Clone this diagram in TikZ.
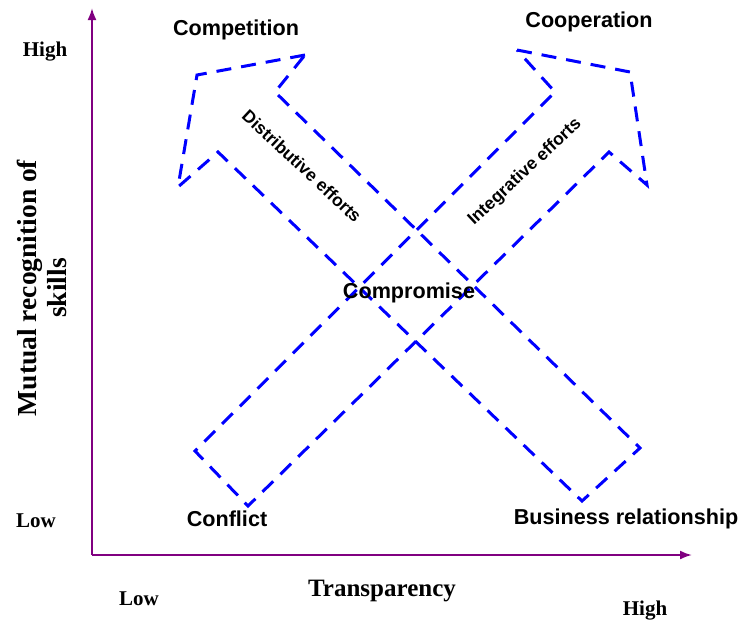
\documentclass[tikz,border=0pt]{standalone}
\usepackage{fontspec}
\setmainfont{Liberation Serif}
\setsansfont{Liberation Sans}
\usepackage{tikz}
\usetikzlibrary{arrows.meta}
\definecolor{axispurple}{RGB}{128,0,128}
\definecolor{arrowblue}{RGB}{0,0,255}
\tikzstyle{axisline} = [draw=axispurple, line width=2pt, -{Latex[length=12pt,width=9pt]}]
\tikzstyle{effortarrow} = [draw=arrowblue, line width=3pt, dash pattern=on 15pt off 10pt]
\tikzstyle{outcome} = [font=\sffamily\bfseries\fontsize{21.6}{25}\selectfont, inner sep=1pt]
\tikzstyle{effort} = [font=\sffamily\bfseries\fontsize{17.5}{20}\selectfont, inner sep=1pt]
\tikzstyle{scalelabel} = [font=\bfseries\fontsize{21}{25}\selectfont, inner sep=1pt]
\tikzstyle{axistitle} = [font=\bfseries\fontsize{25}{30}\selectfont, inner sep=1pt, align=center]

\begin{document}
\begin{tikzpicture}[x=1pt, y=-1pt]
                \useasboundingbox (0,0) rectangle (744,622);
                % axes
                \coordinate (origin) at (92,555);
                \coordinate (ytop) at (92,8);
                \coordinate (xend) at (692,555);
                \draw[axisline] (origin) -- (ytop);
                \draw[axisline] (origin) -- (xend);
                % distributive arrow
                \draw[effortarrow] (305,55) -- (197,75) -- (178,187) -- (218,152)
                    -- (582,501) -- (640,448) -- (275,92) -- cycle;
                % integrative arrow
                \draw[effortarrow] (517,50) -- (630,72) -- (647,185) -- (609,152)
                    -- (248,506) -- (195,451) -- (555,92) -- cycle;
                % outcomes
                \node[outcome] (competition) at (236,30) {Competition};
                \node[outcome] (cooperation) at (589,22) {Cooperation};
                \node[outcome] (compromise) at (409,293) {Compromise};
                \node[outcome] (conflict) at (227,519) {Conflict};
                \node[outcome] (business) at (626,519) {Business relationship};
                \node[effort, rotate=-43] (distributive) at (302,166) {Distributive efforts};
                \node[effort, rotate=43] (integrative) at (525,172) {Integrative efforts};
                % scale labels
                \node[scalelabel] (yhigh) at (45,52) {High};
                \node[scalelabel] (ylow) at (36,521) {Low};
                \node[scalelabel] (xlow) at (139,599) {Low};
                \node[scalelabel] (xhigh) at (645,611) {High};
                \node[axistitle] (xtitle) at (382,591) {Transparency};
                \node[axistitle, font=\bfseries\fontsize{27.5}{30}\selectfont, rotate=90] (ytitle) at (42,288) {Mutual recognition of\\skills};
            \end{tikzpicture}
\end{document}
